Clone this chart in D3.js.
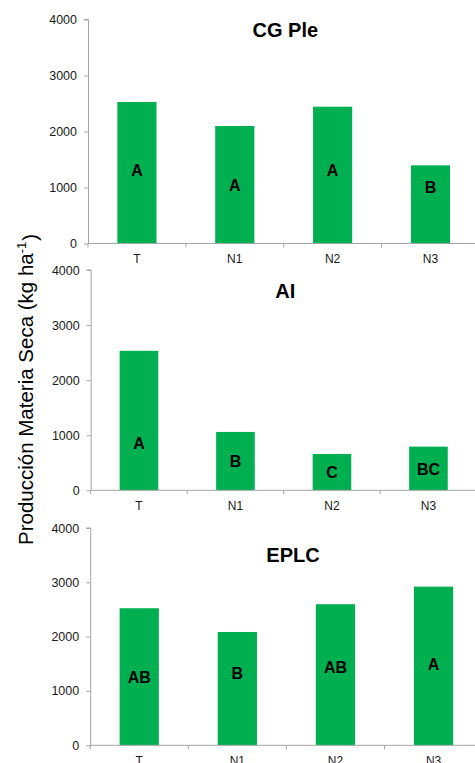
<!DOCTYPE html>
<html><head><meta charset="utf-8">
<script src="https://cdn.jsdelivr.net/npm/d3@7"></script>
<style>
body{margin:0;background:#fff;}
svg{display:block;font-family:"Liberation Sans",Arial,sans-serif;}
</style></head>
<body>
<script>
const categories = ["T", "N1", "N2", "N3"];
const yTicks = [0, 1000, 2000, 3000, 4000];
const titles = ["CG Ple", "AI", "EPLC"];
const valuesCGPle = [2527, 2098, 2443, 1396];
const valuesAI = [2533, 1060, 660, 793];
const valuesEPLC = [2523, 2086, 2597, 2921];
const lettersCGPle = ["A", "A", "A", "B"];
const lettersAI = ["A", "B", "C", "BC"];
const lettersEPLC = ["AB", "B", "AB", "A"];
// vertical position of each letter, in data units
const letterAtCGPle = [1300, 1045, 1310, 996];
const letterAtAI = [855, 520, 327, 387];
const letterAtEPLC = [1252, 1326, 1436, 1492];
const yTitle = "Producción Materia Seca (kg ha";

const W = 475, H = 763;
const svg = d3.select("body").append("svg").attr("width", W).attr("height", H);

const panels = [
  {title: titles[0], values: valuesCGPle, letters: lettersCGPle, at: letterAtCGPle,
   x0: 88, x1: 479.4, y0: 243.5, y1: 19.5, tx: 285.3, ty: 37},
  {title: titles[1], values: valuesAI, letters: lettersAI, at: letterAtAI,
   x0: 90.7, x1: 476.7, y0: 490.3, y1: 270, tx: 285.3, ty: 297.5},
  {title: titles[2], values: valuesEPLC, letters: lettersEPLC, at: letterAtEPLC,
   x0: 90.2, x1: 482.6, y0: 745.3, y1: 528, tx: 293, ty: 561.5}
];

const axisColor = "#a6a6a6";
const green = "#00b050";

panels.forEach(p => {
  const g = svg.append("g");
  const x = d3.scaleBand().domain(categories).range([p.x0, p.x1]).paddingInner(0.6).paddingOuter(0.3);
  const xs = d3.scaleBand().domain(categories).range([p.x0, p.x1]).padding(0);
  const y = d3.scaleLinear().domain([0, 4000]).range([p.y0, p.y1]);

  // bars
  g.selectAll("rect.bar").data(categories).join("rect")
    .attr("class", "bar")
    .attr("x", d => x(d))
    .attr("width", x.bandwidth())
    .attr("y", (d, i) => y(p.values[i]))
    .attr("height", (d, i) => y(0) - y(p.values[i]))
    .attr("fill", green);

  // y axis
  const ya = d3.axisLeft(y).tickValues(yTicks).tickSize(4).tickPadding(7).tickFormat(d3.format("d"));
  const yg = g.append("g").attr("transform", `translate(${p.x0},0)`).call(ya);
  yg.select(".domain").attr("stroke", axisColor).attr("d", `M-4,${y(4000)}H0.5V${y(0)}`);
  yg.selectAll(".tick line").attr("stroke", axisColor);
  yg.selectAll(".tick text").attr("fill", "#1a1a1a").style("font-size", "12.5px")
    .style("font-family", "'Liberation Sans', Arial, sans-serif");

  // x axis
  const xg = g.append("g").attr("transform", `translate(0,${p.y0})`);
  xg.append("line").attr("x1", p.x0).attr("x2", p.x1).attr("y1", 0).attr("y2", 0).attr("stroke", axisColor);
  const bounds = categories.map(c => xs(c)).concat([p.x1]);
  xg.selectAll("line.tk").data(bounds).join("line").attr("class", "tk")
    .attr("x1", d => d).attr("x2", d => d).attr("y1", 0).attr("y2", 4).attr("stroke", axisColor);
  xg.selectAll("text").data(categories).join("text")
    .attr("x", d => xs(d) + xs.bandwidth() / 2).attr("y", 19.5)
    .attr("text-anchor", "middle").attr("fill", "#1a1a1a").style("font-size", "12px")
    .text(d => d);

  // letters
  g.selectAll("text.lt").data(categories).join("text").attr("class", "lt")
    .attr("x", d => x(d) + x.bandwidth() / 2)
    .attr("y", (d, i) => y(p.at[i]))
    .attr("dy", "0.36em")
    .attr("text-anchor", "middle")
    .style("font-size", "16px").style("font-weight", "bold").attr("fill", "#000")
    .text((d, i) => p.letters[i]);

  // title
  g.append("text").attr("x", p.tx).attr("y", p.ty).attr("text-anchor", "middle")
    .style("font-size", "20px").style("font-weight", "bold").attr("fill", "#000")
    .text(p.title);
});

// y axis title
const t = svg.append("text").attr("transform", "translate(33,545) rotate(-90)")
  .attr("text-anchor", "start").style("font-size", "20.5px").attr("fill", "#000");
t.append("tspan").text(yTitle);
t.append("tspan").attr("dy", "-0.55em").style("font-size", "13px").text("-1");
t.append("tspan").attr("dy", "0.55em").attr("dx", "1").text(")");
</script>
</body></html>
